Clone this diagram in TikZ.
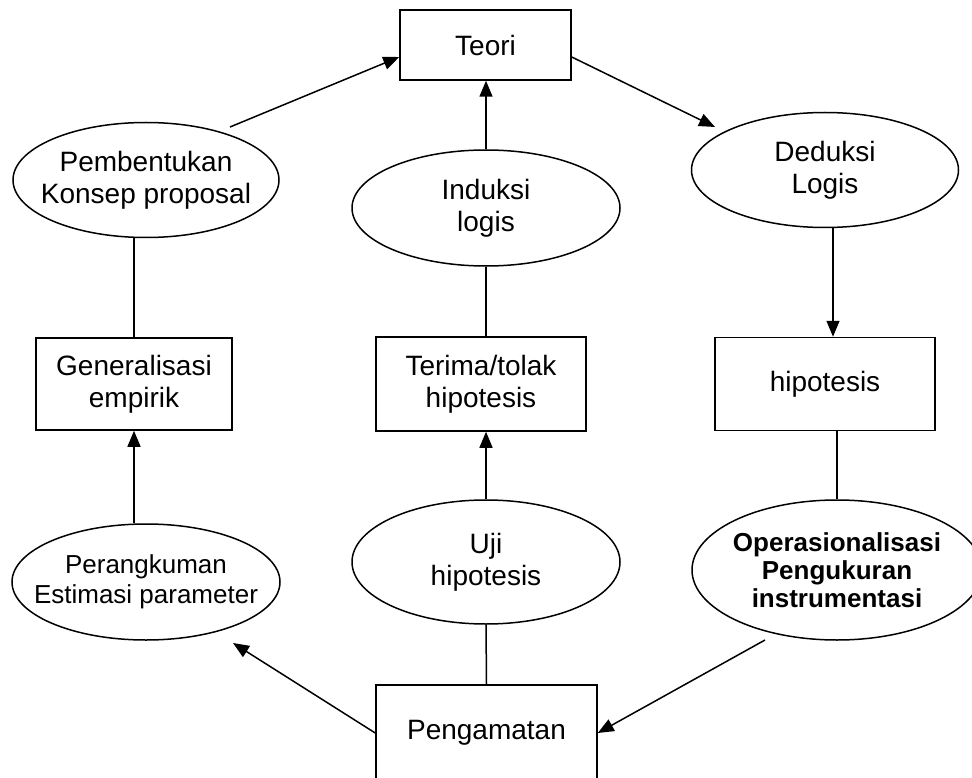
\documentclass[tikz,border=0pt]{standalone}
\usepackage{fontspec}
\setmainfont{Liberation Sans}
\usetikzlibrary{arrows.meta,shapes.geometric,calc}
\begin{document}
\begin{tikzpicture}[x=1pt,y=-1pt,line width=1.5pt,
  txt/.style={font=\fontsize{28}{32}\selectfont},
  smalltxt/.style={font=\fontsize{26}{30}\selectfont},
  boldtxt/.style={font=\fontsize{26}{28}\selectfont\bfseries},
  box/.style={draw,rectangle,inner sep=0pt,align=center,txt},
  oval/.style={draw,ellipse,inner xsep=-40pt,inner ysep=-10pt,align=center,txt},
  arr/.style={-{Triangle[length=16pt,width=13pt]}}]
\useasboundingbox (0,0) rectangle (972,778);
\clip (0,0) rectangle (972,778);

% top row
\node[box,minimum width=171,minimum height=70] (teori) at (485.5,45) {Teori};
\node[oval,minimum width=266,minimum height=115] (pem) at (146,180) {Pembentukan\\Konsep proposal};
\node[oval,minimum width=268,minimum height=116] (ind) at (486,208) {Induksi\\logis};
\node[oval,minimum width=267,minimum height=115] (ded) at (825,170) {Deduksi\\Logis};

% middle row
\node[box,minimum width=196,minimum height=92] (gen) at (134,384) {Generalisasi\\empirik};
\node[box,minimum width=210,minimum height=94] (term) at (481,384) {Terima/tolak\\hipotesis};
\node[box,minimum width=220,minimum height=93] (hip) at (825,384) {hipotesis};

% lower row
\node[oval,smalltxt,minimum width=268,minimum height=116] (perang) at (146,582) {Perangkuman\\Estimasi parameter};
\node[oval,minimum width=268,minimum height=124] (uji) at (486,562) {Uji\\hipotesis};
\node[oval,boldtxt,minimum width=290,minimum height=140] (oper) at (837,570) {Operasionalisasi\\Pengukuran\\instrumentasi};

% bottom box, running past the lower edge
\node[box,minimum width=221,minimum height=96] (peng) at (486.5,733) {Pengamatan};

% connectors
\draw[arr] ($(pem.center)+(84,-53)$) -- ($(teori.west)+(0,12)$);
\draw[arr] ($(teori.east)+(0,12)$) -- ($(ded.center)+(-110,-43)$);
\draw[arr] (ind.north) -- (ind.north |- teori.south);
\draw (gen.north |- pem.south) -- (gen.north);
\draw (ind.south) -- (ind.south |- term.north);
\draw[arr] ($(ded.south)+(8,0)$) -- ($(hip.north)+(8,0)$);
\draw[arr] (gen.south |- perang.north) -- (gen.south);
\draw[arr] (uji.north) -- (uji.north |- term.south);
\draw (oper.north |- hip.south) -- (oper.north);
\draw (peng.north) -- (uji.south);
\draw[arr] ($(oper.center)+(-72,70)$) -- (peng.east);
\draw[arr] (peng.west) -- ($(perang.center)+(87,61)$);
\end{tikzpicture}
\end{document}
